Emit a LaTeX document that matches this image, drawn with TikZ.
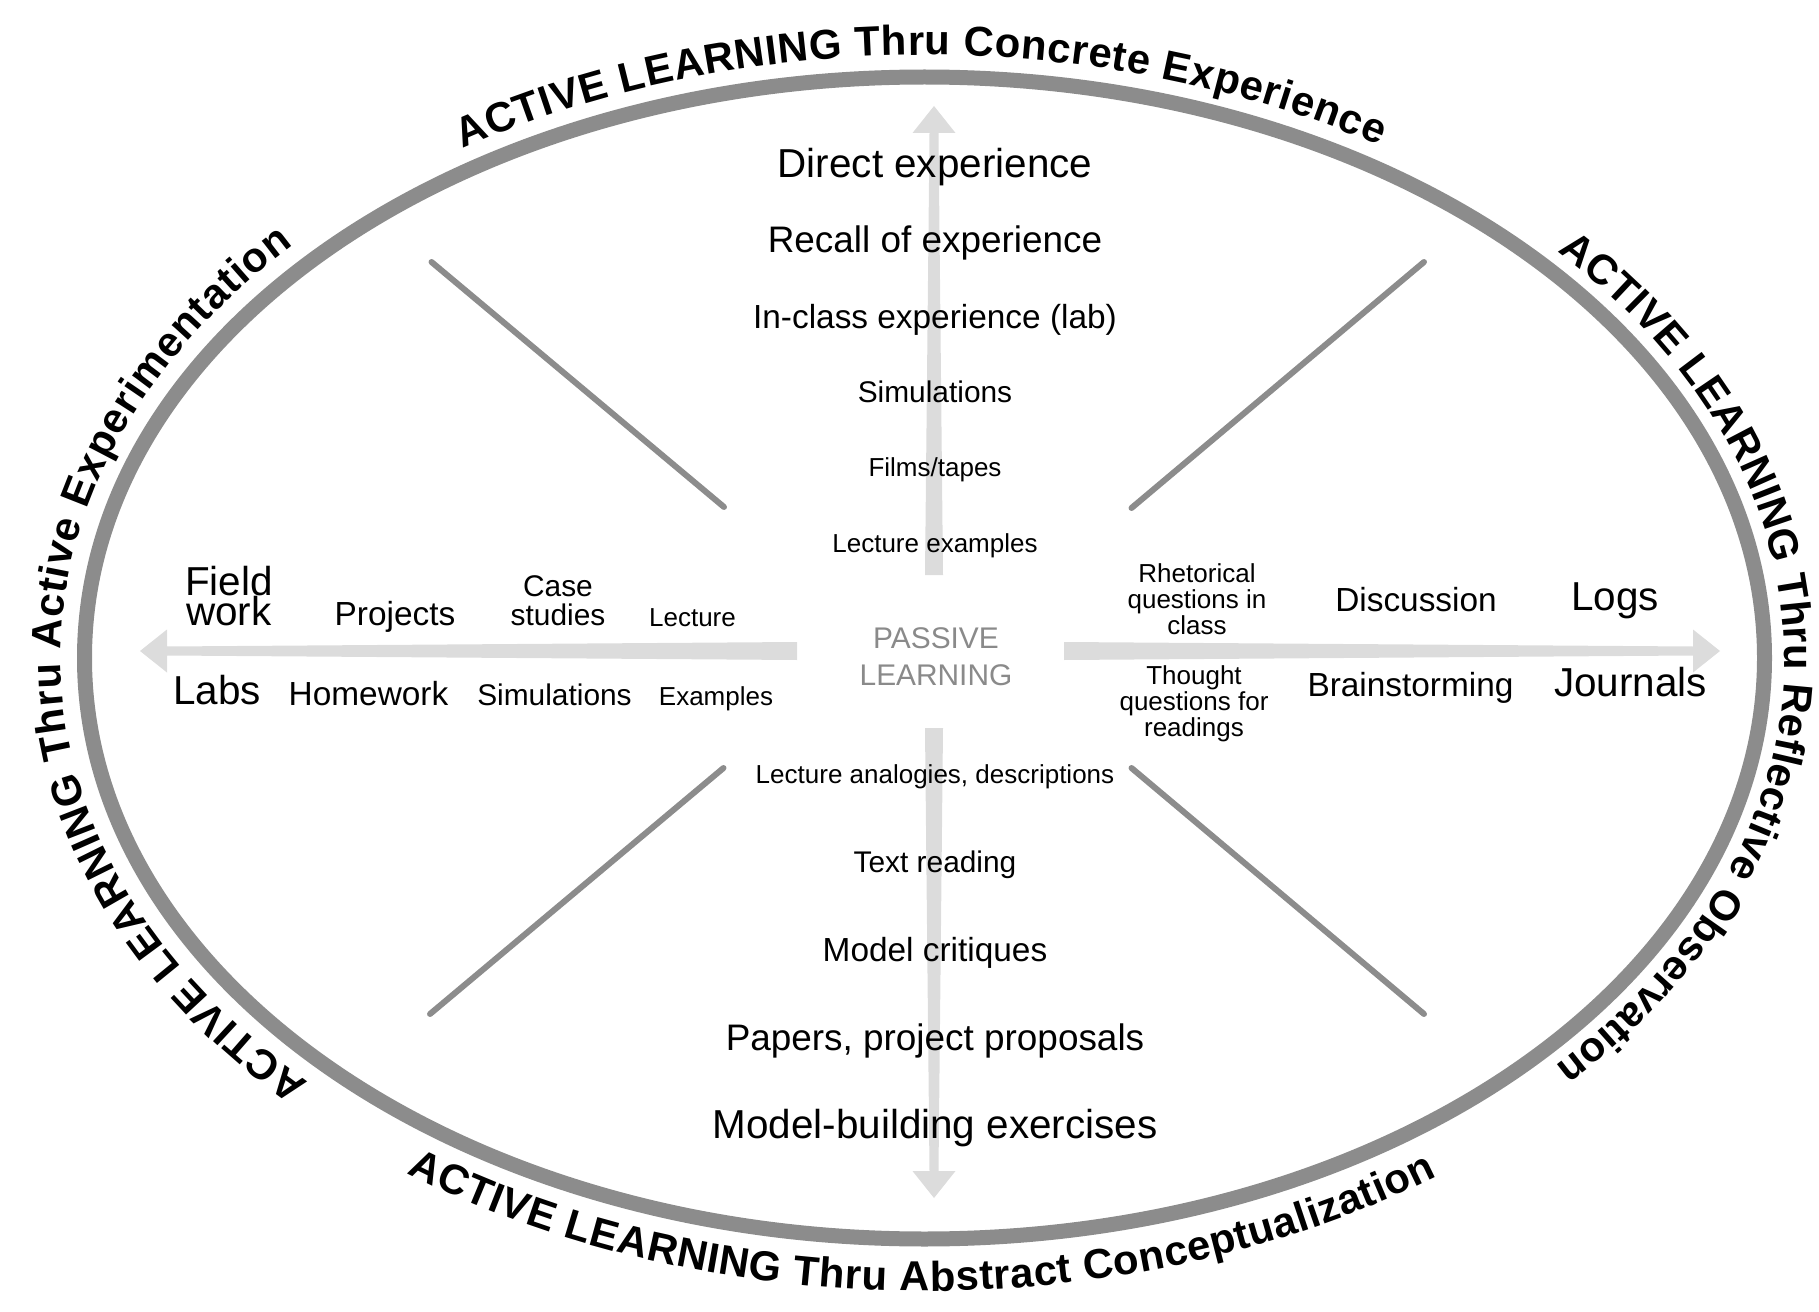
\documentclass[tikz,border=0pt]{standalone}
\usepackage{fontspec}
\setmainfont{Liberation Sans}
\usetikzlibrary{decorations.text}

\definecolor{rimgray}{HTML}{8C8C8C}
\definecolor{shaftgray}{HTML}{DCDCDC}
\definecolor{passivegray}{HTML}{8A8A8A}

\newcommand{\arcfont}{\fontsize{11.9}{14}\selectfont\bfseries}
\newcommand{\tightlines}{\lineskiplimit=-20pt\relax}

\tikzset{
	rim/.style={draw=rimgray, line width=1.5mm},
	spoke/.style={draw=rimgray, line width=0.6mm, line cap=round},
	bigtxt/.style={font={\fontsize{11.5}{8.3}\selectfont\tightlines}},
	largetxt/.style={font={\fontsize{10.5}{12}\selectfont}},
	midtxt/.style={font={\fontsize{9.5}{11}\selectfont}},
	smalltxt/.style={font={\fontsize{8.5}{8}\selectfont\tightlines}},
	tinytxt/.style={font={\fontsize{7.4}{7.3}\selectfont\tightlines}},
	arclabel/.style={decorate, decoration={text along path, text align={fit to path}, text={|\arcfont|#1}}}
}

\begin{document}
\begin{tikzpicture}[x=0.1mm, y=0.1mm, every node/.style={anchor=base}]
		\useasboundingbox (0,0) rectangle (1819,1311);
		\coordinate (rimc) at (924.5,653);
		\coordinate (hub) at (934,660);

		% outer ring and the four spokes
		\draw[rim] (rimc) ellipse [x radius=840, y radius=581];
		\draw[spoke] (431.5,1049) -- (724,804);
		\draw[spoke] (1131.5,803) -- (1424,1049);
		\draw[spoke] (723.5,543) -- (430,297);
		\draw[spoke] (1131.5,543) -- (1424,297);

		% tapered arrows out of the centre
		\foreach \ang/\start/\len in {90/76/545, 270/77/547, 180/137/794, 0/130/786}
			\fill[shaftgray, shift={(hub)}, rotate=\ang] (\start,-9) -- (\len-27,-4.5) -- (\len-27,-21.5) -- (\len,0) -- (\len-27,21.5) -- (\len-27,4.5) -- (\start,9) -- cycle;

		% texts round the ring
		\path[arclabel={ACTIVE LEARNING Thru Concrete Experience}] (rimc) ++(122.4:862 and 603) arc[start angle=122.4, end angle=58.2, x radius=862, y radius=603];
		\path[arclabel={ACTIVE LEARNING Thru Reflective Observation}] (rimc) ++(42.6:860 and 601) arc[start angle=42.6, end angle=-42.7, x radius=860, y radius=601];
		\path[arclabel={ACTIVE LEARNING Thru Active Experimentation}] (rimc) ++(224.5:864 and 605) arc[start angle=224.5, end angle=137, x radius=864, y radius=605];
		\path[arclabel={ACTIVE LEARNING Thru Abstract Conceptualization}] (rimc) ++(234.5:892 and 633) arc[start angle=234.5, end angle=305, x radius=892, y radius=633];

		\node[align=center, text=passivegray, font={\fontsize{8.5}{10.5}\selectfont}] (passive) at (936,626) {PASSIVE\\LEARNING};

		% up and down
		\node[bigtxt] (direct) at (935,1133) {Direct experience};
		\node[largetxt] (recall) at (935,1058) {Recall of experience};
		\node[midtxt] (inclass) at (935,983) {In-class experience (lab)};
		\node[smalltxt] (sims) at (935,909) {Simulations};
		\node[tinytxt] (films) at (935,834.5) {Films/tapes};
		\node[tinytxt] (lecex) at (935,759) {Lecture examples};
		\node[tinytxt] (lecan) at (935,527.5) {Lecture analogies, descriptions};
		\node[smalltxt] (textread) at (935,439) {Text reading};
		\node[midtxt] (critiques) at (935,349.5) {Model critiques};
		\node[largetxt] (papers) at (935,260.5) {Papers, project proposals};
		\node[bigtxt] (modelbuild) at (935,172.5) {Model-building exercises};

		% left
		\node[bigtxt, align=center] (field) at (229,686) {Field\\work};
		\node[midtxt] (projects) at (395,686) {Projects};
		\node[smalltxt, align=center] (cases) at (558,686) {Case\\studies};
		\node[tinytxt] (lecture) at (692.5,685) {Lecture};
		\node[bigtxt] (labs) at (217,607) {Labs};
		\node[midtxt] (homework) at (368.5,606) {Homework};
		\node[smalltxt] (simsl) at (554.5,605.5) {Simulations};
		\node[tinytxt] (examples) at (716,606) {Examples};

		% right
		\node[tinytxt, align=center] (rhet) at (1197,677) {Rhetorical\\questions in\\class};
		\node[midtxt] (discussion) at (1416,700) {Discussion};
		\node[bigtxt] (logs) at (1615,700.5) {Logs};
		\node[tinytxt, align=center] (thought) at (1194,575) {Thought\\questions for\\readings};
		\node[midtxt] (brainstorm) at (1410.5,615) {Brainstorming};
		\node[bigtxt] (journals) at (1630.5,615) {Journals};
	\end{tikzpicture}
\end{document}
